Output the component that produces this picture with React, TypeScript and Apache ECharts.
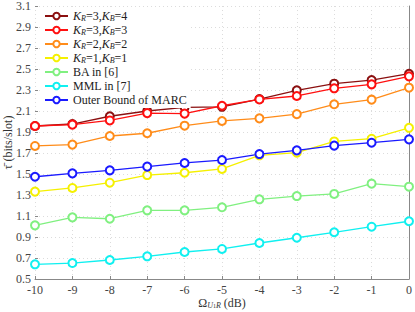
import React, { useEffect, useRef } from "react";
import * as echarts from "echarts";

const xValues = [-10, -9, -8, -7, -6, -5, -4, -3, -2, -1, 0];
const yTicks = [0.5, 0.7, 0.9, 1.1, 1.3, 1.5, 1.7, 1.9, 2.1, 2.3, 2.5, 2.7, 2.9, 3.1];

const kr3kb4 = [1.957, 1.976, 2.05, 2.1, 2.135, 2.14, 2.214, 2.297, 2.36, 2.395, 2.455];
const kr3kb3 = [1.957, 1.97, 2.01, 2.08, 2.075, 2.15, 2.21, 2.243, 2.316, 2.354, 2.43];
const kr2kb2 = [1.767, 1.78, 1.862, 1.888, 1.96, 2.005, 2.03, 2.07, 2.164, 2.208, 2.322];
const kr1kb1 = [1.332, 1.367, 1.417, 1.49, 1.512, 1.548, 1.678, 1.703, 1.81, 1.836, 1.94];
const baRef6 = [1.011, 1.087, 1.074, 1.154, 1.154, 1.183, 1.259, 1.29, 1.31, 1.408, 1.379];
const mmlRef7 = [0.64, 0.652, 0.681, 0.716, 0.757, 0.786, 0.843, 0.893, 0.945, 0.998, 1.05];
const outerBound = [1.474, 1.506, 1.535, 1.57, 1.605, 1.633, 1.69, 1.725, 1.77, 1.798, 1.83];

const seriesDefs = [
  { name: "k34", label: "{i|K}{s|R}{n|=3,}{i|K}{s|B}{n|=4}", data: kr3kb4, color: "#8b1010" },
  { name: "k33", label: "{i|K}{s|R}{n|=3,}{i|K}{s|B}{n|=3}", data: kr3kb3, color: "#ff1010" },
  { name: "k22", label: "{i|K}{s|R}{n|=2,}{i|K}{s|B}{n|=2}", data: kr2kb2, color: "#ff8c1a" },
  { name: "k11", label: "{i|K}{s|R}{n|=1,}{i|K}{s|B}{n|=1}", data: kr1kb1, color: "#f5f000" },
  { name: "BA in [6]", label: "{n|BA in [6]}", data: baRef6, color: "#80f080" },
  { name: "MML in [7]", label: "{n|MML in [7]}", data: mmlRef7, color: "#10f0f0" },
  { name: "Outer Bound of MARC", label: "{n|Outer Bound of MARC}", data: outerBound, color: "#1a1aff" },
];

const FONT = "'Liberation Serif', 'DejaVu Serif', serif";
const GRID_LINE = { show: true, lineStyle: { color: "#dcdcdc", type: [1, 3], width: 1 } };

export default function App() {
  const ref = useRef<HTMLDivElement>(null);
  useEffect(() => {
    if (!ref.current) return;
    const chart = echarts.init(ref.current, undefined, { renderer: "svg" });
    const labelMap: Record<string, string> = {};
    seriesDefs.forEach((s) => (labelMap[s.name] = s.label));
    chart.setOption({
      animation: false,
      backgroundColor: "#ffffff",
      grid: { left: 35, right: 6, top: 6, bottom: 33, containLabel: false, outerBoundsMode: "none" },
      legend: {
        orient: "vertical",
        left: 40,
        top: 8,
        padding: [2, 4, 2, 4],
        backgroundColor: "#ffffff",
        itemWidth: 23,
        itemHeight: 8,
        itemGap: 2,
        data: seriesDefs.map((s) => s.name),
        formatter: (name: string) => labelMap[name],
        textStyle: {
          fontFamily: FONT,
          fontSize: 12,
          color: "#222",
          rich: {
            n: { fontFamily: FONT, fontSize: 12, color: "#222", lineHeight: 12 },
            i: { fontFamily: FONT, fontSize: 12, fontStyle: "italic", color: "#222", lineHeight: 12 },
            s: { fontFamily: FONT, fontSize: 8, fontStyle: "italic", color: "#222", lineHeight: 6, verticalAlign: "bottom" },
          },
        },
      },
      xAxis: {
        type: "value",
        min: -10,
        max: 0,
        interval: 1,
        name: "{a|Ω}{s|U}{ss|1}{s|R}{a| (dB)}",
        nameLocation: "middle",
        nameGap: 17,
        nameMoveOverlap: false,
        nameTextStyle: {
          rich: {
            a: { fontFamily: FONT, fontSize: 12, color: "#333", lineHeight: 13 },
            s: { fontFamily: FONT, fontSize: 8, fontStyle: "italic", color: "#333", lineHeight: 7, verticalAlign: "bottom" },
            ss: { fontFamily: FONT, fontSize: 6, color: "#333", lineHeight: 4, verticalAlign: "bottom" },
          },
        },
        axisLine: { show: true, lineStyle: { color: "#888", width: 1 } },
        axisTick: { show: true, inside: true, length: 3, lineStyle: { color: "#888" } },
        axisLabel: { fontFamily: FONT, fontSize: 12, color: "#444", margin: 5 },
        splitLine: GRID_LINE,
      },
      yAxis: [
        {
          type: "value",
          min: 0.5,
          max: 3.1,
          name: "τ̄ (bits/slot)",
          nameLocation: "middle",
          nameGap: 21,
          nameMoveOverlap: false,
          nameTextStyle: { fontFamily: FONT, fontSize: 12, color: "#333" },
          axisLine: { show: true, lineStyle: { color: "#888", width: 1 } },
          axisTick: { show: false },
          axisLabel: {
            fontFamily: FONT,
            fontSize: 12,
            color: "#444",
            margin: 4,
            customValues: yTicks,
            formatter: (v: number) => v.toFixed(1),
          },
          splitLine: { show: false },
        },
        {
          // helper axis: same span (0.5..3.1) shifted to start at 0, used only for grid lines and ticks
          type: "value",
          position: "left",
          min: 0,
          max: 2.6,
          interval: 0.2,
          axisLine: { show: false },
          axisLabel: { show: false },
          axisTick: { show: true, inside: true, length: 3, lineStyle: { color: "#888" } },
          splitLine: GRID_LINE,
        },
      ],
      series: seriesDefs.map((s) => ({
        name: s.name,
        type: "line",
        yAxisIndex: 0,
        data: xValues.map((x, i) => [x, s.data[i]]),
        symbol: "emptyCircle",
        symbolSize: 8,
        showAllSymbol: true,
        color: s.color,
        lineStyle: { color: s.color, width: 1.3 },
        itemStyle: { color: s.color, borderColor: s.color, borderWidth: 1.3 },
        emphasis: { disabled: true },
      })),
    });
    return () => chart.dispose();
  }, []);
  return <div ref={ref} style={{ width: 415, height: 312, position: "absolute", left: 0, top: 0 }} />;
}
